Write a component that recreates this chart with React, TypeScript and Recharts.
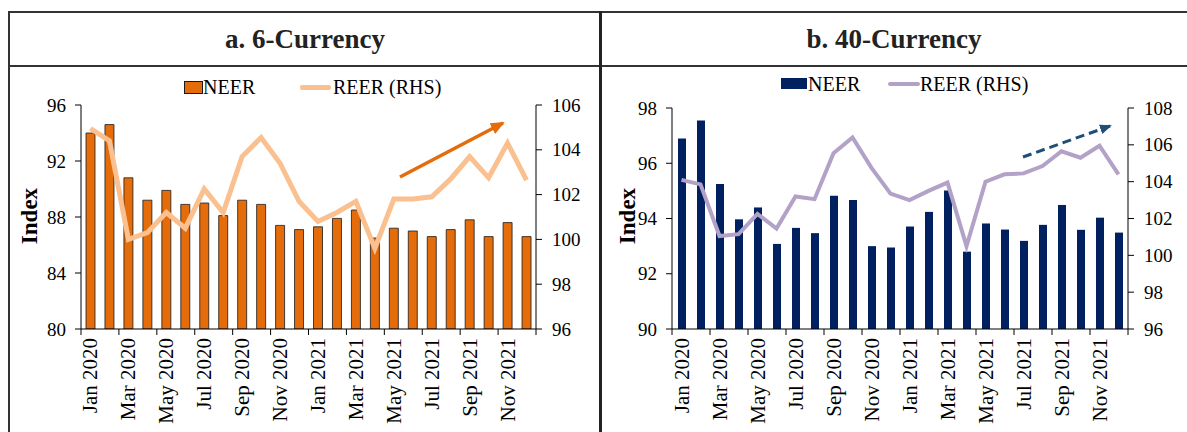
import React from 'react';
import { ComposedChart, Bar, Line, XAxis, YAxis } from 'recharts';

const months = [
  'Jan 2020', 'Feb 2020', 'Mar 2020', 'Apr 2020', 'May 2020', 'Jun 2020',
  'Jul 2020', 'Aug 2020', 'Sep 2020', 'Oct 2020', 'Nov 2020', 'Dec 2020',
  'Jan 2021', 'Feb 2021', 'Mar 2021', 'Apr 2021', 'May 2021', 'Jun 2021',
  'Jul 2021', 'Aug 2021', 'Sep 2021', 'Oct 2021', 'Nov 2021', 'Dec 2021',
];

// a. 6-Currency
const neer6 = [94.0, 94.6, 90.8, 89.2, 89.9, 88.9, 89.0, 88.1, 89.2, 88.9, 87.4, 87.1,
  87.3, 87.9, 88.5, 86.5, 87.2, 87.0, 86.6, 87.1, 87.8, 86.6, 87.6, 86.6];
const reer6 = [104.95, 104.4, 100.0, 100.3, 101.2, 100.5, 102.25, 101.2, 103.7, 104.55, 103.4, 101.7,
  100.8, 101.2, 101.7, 99.6, 101.8, 101.8, 101.9, 102.7, 103.7, 102.75, 104.3, 102.65];

// b. 40-Currency
const neer40 = [96.9, 97.55, 95.25, 93.97, 94.4, 93.08, 93.66, 93.47, 94.82, 94.67, 93.0, 92.95,
  93.71, 94.24, 95.01, 92.8, 93.82, 93.6, 93.19, 93.77, 94.49, 93.59, 94.03, 93.49];
const reer40 = [104.1, 103.85, 101.05, 101.15, 102.25, 101.45, 103.2, 103.05, 105.55, 106.4, 104.75, 103.35,
  103.0, 103.5, 103.95, 100.5, 104.0, 104.4, 104.45, 104.85, 105.65, 105.3, 105.95, 104.4];

const leftTicks6 = [80, 84, 88, 92, 96];
const rightTicks6 = [96, 98, 100, 102, 104, 106];
const leftTicks40 = [90, 92, 94, 96, 98];
const rightTicks40 = [96, 98, 100, 102, 104, 106, 108];

const FONT = '"Liberation Serif", "Times New Roman", serif';
const H = 432;
const AXIS_Y = 329;
const LINE_COLOR = '#333';

type PanelProps = {
  left: number;
  width: number;
  plotLeft: number;
  plotRight: number;
  plotTop: number;
  neer: number[];
  reer: number[];
  leftTicks: number[];
  rightTicks: number[];
  barColor: string;
  barStroke?: string;
  barSize: number;
  lineColor: string;
  lineWidth: number;
};

const valueTick = (props: any) => (
  <text
    x={props.x}
    y={props.y}
    textAnchor={props.textAnchor}
    dominantBaseline="central"
    fontSize={19}
    fontFamily={FONT}
    fill="#000"
  >
    {props.payload.value}
  </text>
);

function Panel(p: PanelProps) {
  const data = months.map((m, i) => ({ month: m, neer: p.neer[i], reer: p.reer[i] }));
  const band = (p.plotRight - p.plotLeft) / months.length;

  // month labels every 2nd category, tick marks sit on the category boundaries
  const monthTick = (props: any) => {
    const { x, payload } = props;
    const bx = x - band / 2;
    const isLast = payload.value === months[months.length - 2];
    return (
      <g>
        <line x1={bx} x2={bx} y1={AXIS_Y} y2={AXIS_Y + 6} stroke="#000" />
        {isLast && <line x1={bx + band * 2} x2={bx + band * 2} y1={AXIS_Y} y2={AXIS_Y + 6} stroke="#000" />}
        <text
          x={x}
          y={AXIS_Y + 9}
          transform={`rotate(-90, ${x}, ${AXIS_Y + 9})`}
          textAnchor="end"
          dominantBaseline="central"
          fontSize={21}
          fontFamily={FONT}
          fill="#000"
        >
          {payload.value}
        </text>
      </g>
    );
  };

  return (
    <div style={{ position: 'absolute', left: p.left, top: 0, fontFamily: FONT }}>
      <ComposedChart
        width={p.width}
        height={H}
        data={data}
        margin={{ top: p.plotTop, right: 0, bottom: 0, left: 0 }}
        barCategoryGap={0}
      >
        <XAxis
          dataKey="month"
          interval={1}
          height={H - AXIS_Y}
          tickLine={false}
          axisLine={{ stroke: '#000' }}
          tick={monthTick}
        />
        <YAxis
          yAxisId="left"
          orientation="left"
          width={p.plotLeft}
          domain={[p.leftTicks[0], p.leftTicks[p.leftTicks.length - 1]]}
          ticks={p.leftTicks}
          tick={valueTick}
          tickSize={6}
          tickMargin={9}
          axisLine={{ stroke: '#000' }}
          tickLine={{ stroke: '#000' }}
          allowDataOverflow
        />
        <YAxis
          yAxisId="right"
          orientation="right"
          width={p.width - p.plotRight}
          domain={[p.rightTicks[0], p.rightTicks[p.rightTicks.length - 1]]}
          ticks={p.rightTicks}
          tick={valueTick}
          tickSize={6}
          tickMargin={10}
          axisLine={{ stroke: '#000' }}
          tickLine={{ stroke: '#000' }}
          allowDataOverflow
        />
        <Bar
          yAxisId="left"
          dataKey="neer"
          fill={p.barColor}
          stroke={p.barStroke}
          strokeWidth={p.barStroke ? 0.8 : 0}
          barSize={p.barSize}
          isAnimationActive={false}
        />
        <Line
          yAxisId="right"
          dataKey="reer"
          type="linear"
          stroke={p.lineColor}
          strokeWidth={p.lineWidth}
          dot={false}
          activeDot={false}
          isAnimationActive={false}
        />
      </ComposedChart>
    </div>
  );
}

const legendText: React.CSSProperties = {
  position: 'absolute',
  fontFamily: FONT,
  fontSize: 20,
  color: '#000',
  lineHeight: '20px',
  whiteSpace: 'nowrap',
};

export default function App() {
  return (
    <div style={{ position: 'absolute', left: 0, top: 0, width: 1187, height: H, overflow: 'hidden', background: '#fff' }}>
      <Panel
        left={0}
        width={600}
        plotLeft={81}
        plotRight={536}
        plotTop={105}
        neer={neer6}
        reer={reer6}
        leftTicks={leftTicks6}
        rightTicks={rightTicks6}
        barColor="#E46C0A"
        barStroke="#1a1a1a"
        barSize={9}
        lineColor="#FAC090"
        lineWidth={5}
      />
      <Panel
        left={600}
        width={587}
        plotLeft={72}
        plotRight={528}
        plotTop={108}
        neer={neer40}
        reer={reer40}
        leftTicks={leftTicks40}
        rightTicks={rightTicks40}
        barColor="#002060"
        barSize={8}
        lineColor="#B3A2C7"
        lineWidth={4}
      />

      {/* titles */}
      <div style={{ position: 'absolute', left: 10, top: 12, width: 590, height: 54, display: 'flex', alignItems: 'center', justifyContent: 'center', fontFamily: FONT, fontWeight: 'bold', fontSize: 27, color: '#222' }}>
        a. 6-Currency
      </div>
      <div style={{ position: 'absolute', left: 601, top: 12, width: 586, height: 54, display: 'flex', alignItems: 'center', justifyContent: 'center', fontFamily: FONT, fontWeight: 'bold', fontSize: 27, color: '#222' }}>
        b. 40-Currency
      </div>

      {/* legends */}
      <div style={{ position: 'absolute', left: 184, top: 81, width: 17, height: 11, background: '#E46C0A', border: '1px solid #1a1a1a' }} />
      <div style={{ ...legendText, left: 203, top: 77 }}>NEER</div>
      <div style={{ position: 'absolute', left: 300, top: 85, width: 31, height: 5, background: '#FAC090', borderRadius: 2 }} />
      <div style={{ ...legendText, left: 333, top: 77 }}>REER (RHS)</div>

      <div style={{ position: 'absolute', left: 781, top: 78, width: 26, height: 11, background: '#002060' }} />
      <div style={{ ...legendText, left: 808, top: 74 }}>NEER</div>
      <div style={{ position: 'absolute', left: 888, top: 82, width: 32, height: 4, background: '#B3A2C7', borderRadius: 2 }} />
      <div style={{ ...legendText, left: 920, top: 74 }}>REER (RHS)</div>

      <svg width={1187} height={H} style={{ position: 'absolute', left: 0, top: 0, pointerEvents: 'none' }}>
        <defs>
          <marker id="headA" markerUnits="userSpaceOnUse" markerWidth={14} markerHeight={12} refX={12} refY={6} orient="auto">
            <path d="M0,0 L14,6 L0,12 z" fill="#E46C0A" />
          </marker>
          <marker id="headB" markerUnits="userSpaceOnUse" markerWidth={12} markerHeight={10} refX={10} refY={5} orient="auto">
            <path d="M0,0 L12,5 L0,10 z" fill="#1F4E79" />
          </marker>
        </defs>

        {/* table frame */}
        <line x1={9} x2={1187} y1={12} y2={12} stroke={LINE_COLOR} strokeWidth={2} />
        <line x1={9} x2={1187} y1={66} y2={66} stroke={LINE_COLOR} strokeWidth={2} />
        <line x1={9} x2={9} y1={11} y2={H} stroke={LINE_COLOR} strokeWidth={2} />
        <line x1={600.5} x2={600.5} y1={11} y2={H} stroke="#222" strokeWidth={3} />

        {/* axis titles */}
        <text x={29} y={216} transform="rotate(-90, 29, 216)" textAnchor="middle" dominantBaseline="central" fontFamily={FONT} fontWeight="bold" fontSize={23} fill="#000">Index</text>
        <text x={627} y={216} transform="rotate(-90, 627, 216)" textAnchor="middle" dominantBaseline="central" fontFamily={FONT} fontWeight="bold" fontSize={23} fill="#000">Index</text>

        {/* trend arrows */}
        <line x1={400} y1={177} x2={503} y2={123} stroke="#E46C0A" strokeWidth={3.5} markerEnd="url(#headA)" />
        <line x1={1023} y1={157} x2={1110} y2={126} stroke="#1F4E79" strokeWidth={3} strokeDasharray="9 5" markerEnd="url(#headB)" />
      </svg>
    </div>
  );
}
